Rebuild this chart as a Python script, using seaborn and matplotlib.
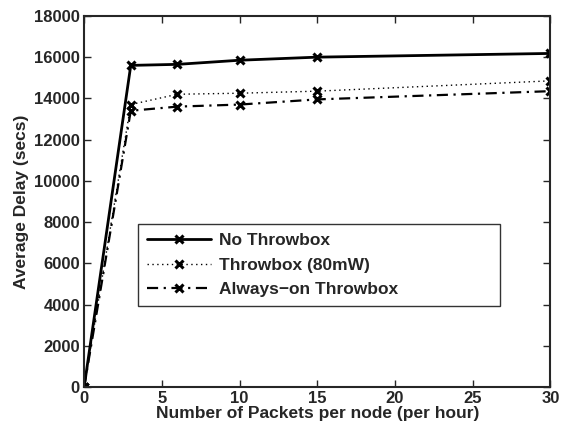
import matplotlib
matplotlib.use("Agg")
import matplotlib.pyplot as plt
import seaborn as sns
import pandas as pd

x_vals = [0, 3, 6, 10, 15, 30]
no_throwbox = [0, 15600, 15650, 15850, 16000, 16180]
throwbox_80mw = [0, 13700, 14200, 14250, 14350, 14850]
always_on = [0, 13400, 13600, 13700, 13950, 14350]
series_names = ["No Throwbox", "Throwbox (80mW)", "Always\u2212on Throwbox"]
x_ticks = [0, 5, 10, 15, 20, 25, 30]
y_ticks = list(range(0, 18001, 2000))

sns.set_style("ticks")
plt.rcParams['font.family'] = ['Liberation Sans', 'DejaVu Sans']
plt.rcParams['font.weight'] = 'bold'

df = pd.DataFrame({
    "x": x_vals * 3,
    "y": no_throwbox + throwbox_80mw + always_on,
    "series": [series_names[0]] * 6 + [series_names[1]] * 6 + [series_names[2]] * 6,
})

fig = plt.figure(figsize=(5.61, 4.30), dpi=100)
ax = fig.add_axes([0.150, 0.100, 0.831, 0.863])

styles = {
    series_names[0]: dict(ls='-', lw=2.0),
    series_names[1]: dict(ls=(0, (1, 2.5)), lw=1.0),
    series_names[2]: dict(ls=(0, (5, 2.5, 1, 2.5)), lw=1.6),
}
for name in series_names:
    sub = df[df["series"] == name]
    sns.lineplot(data=sub, x="x", y="y", ax=ax, color='black', marker='x',
                 markersize=5.5, markeredgewidth=2.2, markeredgecolor='black', label=name,
                 linestyle=styles[name]['ls'], linewidth=styles[name]['lw'])

ax.set_xlim(0, 30)
ax.set_ylim(0, 18000)
ax.set_xticks(x_ticks)
ax.set_yticks(y_ticks)
ax.tick_params(direction='in', length=5, labelsize=12, width=1, top=True, right=True, pad=3)
for lab in ax.get_xticklabels() + ax.get_yticklabels():
    lab.set_fontweight('bold')
for s in ax.spines.values():
    s.set_linewidth(1.5)
ax.set_xlabel("Number of Packets per node (per hour)", fontsize=12.5, fontweight='bold', labelpad=0)
ax.set_ylabel("Average Delay (secs)", fontsize=12.5, fontweight='bold', labelpad=4)

leg = ax.legend(loc='lower left', bbox_to_anchor=(0.116, 0.218, 0.777, 0.2), mode='expand',
                borderaxespad=0, frameon=True, fancybox=False, edgecolor='black',
                fontsize=12.5, handlelength=3.7, handletextpad=0.45,
                borderpad=0.5, labelspacing=0.55)
leg.get_frame().set_linewidth(1.0)
for t in leg.get_texts():
    t.set_fontweight('bold')

fig.savefig("out.png", dpi=100)
